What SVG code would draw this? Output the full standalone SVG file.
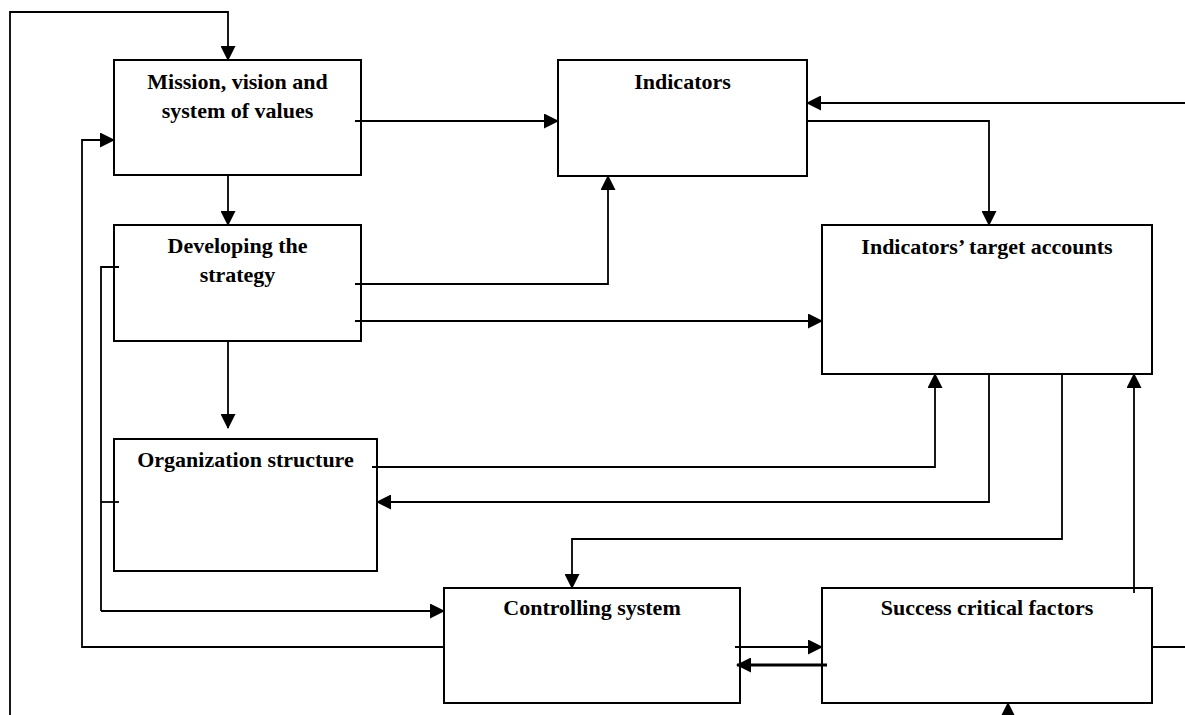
<svg xmlns="http://www.w3.org/2000/svg" width="1185" height="715" viewBox="0 0 1185 715">
<style>
.box{fill:#fff;stroke:#000;stroke-width:2}
.lbl{font-family:"Liberation Serif","Times New Roman",serif;font-weight:bold;font-size:22px;fill:#000;text-anchor:middle}
.c{fill:none;stroke:#000;stroke-width:1.8}
.ca{fill:none;stroke:#000;stroke-width:1.8;marker-end:url(#ah)}
.cb{fill:none;stroke:#000;stroke-width:3;marker-end:url(#ah)}
</style>
<defs>
<marker id="ah" markerUnits="userSpaceOnUse" markerWidth="15" markerHeight="15" refX="14" refY="7.5" orient="auto" viewBox="0 0 15 15">
<path d="M0,0 L15,7.5 L0,15 z" fill="#000"/>
</marker>
</defs>
<rect width="1185" height="715" fill="#fff"/>
<g id="n-mission"><rect class="box" x="114" y="60" width="247" height="115"/><text class="lbl" x="237.5" y="89">Mission, vision and</text><text class="lbl" x="237.5" y="118">system of values</text></g>
<g id="n-indicators"><rect class="box" x="558" y="60" width="249" height="116"/><text class="lbl" x="682.5" y="89">Indicators</text></g>
<g id="n-developing"><rect class="box" x="114" y="225" width="247" height="116"/><text class="lbl" x="237.5" y="253">Developing the</text><text class="lbl" x="237.5" y="282">strategy</text></g>
<g id="n-target"><rect class="box" x="822" y="225" width="330" height="149"/><text class="lbl" x="987" y="254">Indicators’ target accounts</text></g>
<g id="n-org"><rect class="box" x="114" y="439" width="263" height="132"/><text class="lbl" x="245.5" y="467">Organization structure</text></g>
<g id="n-controlling"><rect class="box" x="444" y="588" width="296" height="115"/><text class="lbl" x="592" y="615">Controlling system</text></g>
<g id="n-success"><rect class="box" x="822" y="588" width="330" height="115"/><text class="lbl" x="987" y="615">Success critical factors</text></g>
<g id="connectors">
<path class="ca" d="M10,715 V12 H228 V60"/>
<path class="ca" d="M355,121 H558"/>
<path class="ca" d="M228,175 V225"/>
<path class="ca" d="M444,647 H82 V140 H114"/>
<path class="ca" d="M355,284 H608 V176"/>
<path class="ca" d="M355,321 H822"/>
<path class="ca" d="M228,341 V428"/>
<path class="c" d="M119,267 H101 V611"/>
<path class="c" d="M101,502 H119"/>
<path class="ca" d="M101,611 H444"/>
<path class="ca" d="M372,467 H935 V374"/>
<path class="ca" d="M989,374 V502 H377"/>
<path class="ca" d="M1062,374 V539 H572 V588"/>
<path class="ca" d="M735,647 H822"/>
<path class="cb" d="M827,665 H737"/>
<path class="ca" d="M1134,593 V374"/>
<path class="c" d="M1152,647 H1185"/>
<path class="ca" d="M1185,103 H807"/>
<path class="ca" d="M807,121 H989 V225"/>
<path class="ca" d="M1008,715 V703"/>
</g>
</svg>
